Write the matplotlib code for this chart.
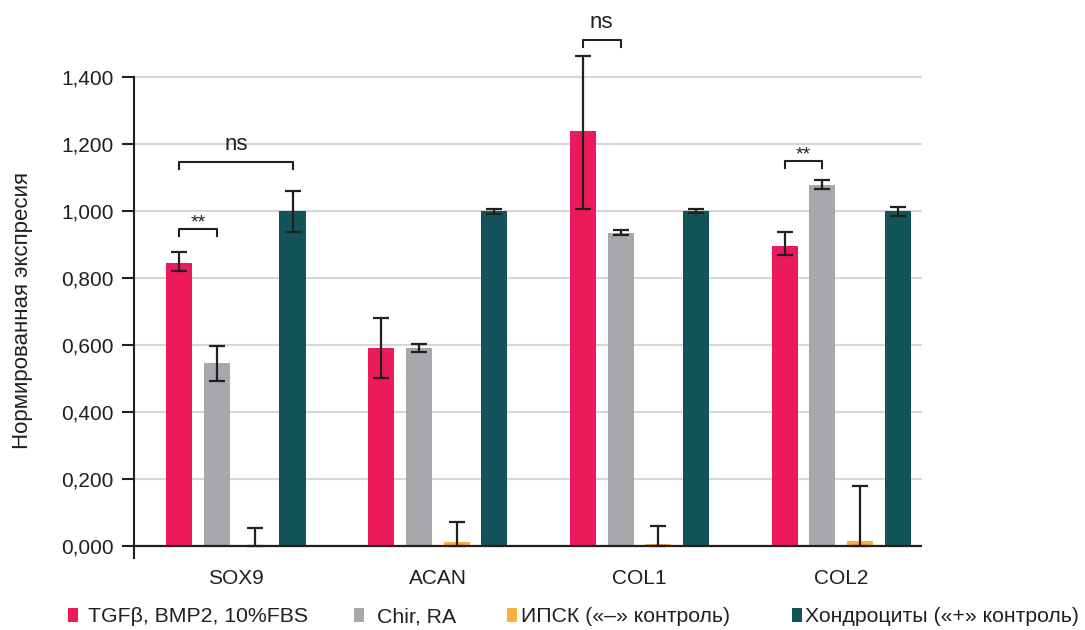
import numpy as np
import matplotlib
matplotlib.use("Agg")
import matplotlib.pyplot as plt

plt.rcParams['font.family'] = ['Liberation Sans', 'DejaVu Sans']

# data
genes = ["SOX9", "ACAN", "COL1", "COL2"]
series = [
    "TGFβ, BMP2, 10%FBS",
    "Chir, RA",
    "ИПСК («–» контроль)",
    "Хондроциты («+» контроль)",
]
colors = ["#EC1A5B", "#A7A8AB", "#F9B041", "#12545A"]

tgf_vals = [0.845, 0.590, 1.238, 0.896]
tgf_lo = [0.822, 0.500, 1.006, 0.869]
tgf_hi = [0.878, 0.680, 1.462, 0.936]

chir_vals = [0.545, 0.590, 0.935, 1.078]
chir_lo = [0.492, 0.578, 0.928, 1.066]
chir_hi = [0.597, 0.604, 0.942, 1.094]

ipsc_vals = [0.003, 0.012, 0.005, 0.014]
ipsc_lo = [0.0, 0.0, 0.0, 0.0]
ipsc_hi = [0.055, 0.070, 0.060, 0.180]

chondro_vals = [1.000, 1.000, 1.000, 1.000]
chondro_lo = [0.936, 0.992, 0.993, 0.984]
chondro_hi = [1.060, 1.006, 1.007, 1.013]

yticks = [0.0, 0.2, 0.4, 0.6, 0.8, 1.0, 1.2, 1.4]

# significance brackets: (gene index, series a, series b, height, label)
sig_gene = [0, 0, 2, 3]
sig_a = [0, 0, 0, 0]
sig_b = [1, 3, 1, 1]
sig_y = [0.946, 1.146, 1.510, 1.149]
sig_text = ["**", "ns", "ns", "**"]

all_vals = [tgf_vals, chir_vals, ipsc_vals, chondro_vals]
all_lo = [tgf_lo, chir_lo, ipsc_lo, chondro_lo]
all_hi = [tgf_hi, chir_hi, ipsc_hi, chondro_hi]

ink = "#231F20"

fig = plt.figure(figsize=(10.85, 6.3), dpi=100)
ax = fig.add_axes([134 / 1085, 1 - 558 / 630, 788 / 1085, 553 / 630])

x = np.arange(len(genes))
step = 0.187
width = 0.129
offsets = (np.arange(4) - 1.5) * step

handles = []
for i in range(4):
    vals = np.array(all_vals[i])
    err = [vals - np.array(all_lo[i]), np.array(all_hi[i]) - vals]
    b = ax.bar(x + offsets[i], vals, width, color=colors[i], zorder=3,
               label=series[i])
    ax.errorbar(x + offsets[i], vals, yerr=err, fmt="none", ecolor=ink,
                elinewidth=1.6, capsize=5.5, capthick=1.6, zorder=4)
    handles.append(b)

ax.axhline(0, color=ink, lw=1.6, zorder=5)

# brackets
leg_h = 0.021
for g, a, bb, y, t in zip(sig_gene, sig_a, sig_b, sig_y, sig_text):
    x0 = x[g] + offsets[a]
    x1 = x[g] + offsets[bb]
    ax.plot([x0, x0, x1, x1], [y - leg_h, y, y, y - leg_h],
            color=ink, lw=1.5, zorder=4)
    if t == "**":
        ax.text((x0 + x1) / 2, y - 0.008, t, ha="center", va="bottom",
                fontsize=14, color=ink)
    else:
        ax.text((x0 + x1) / 2, y + 0.022, t, ha="center", va="bottom",
                fontsize=16, color=ink)

ax.set_xlim(-0.505, 3.40)
ax.set_ylim(-0.036, 1.615)
ax.set_yticks(yticks)
ax.set_yticklabels([f"{v:.3f}".replace(".", ",") for v in yticks])
ax.set_xticks(x)
ax.set_xticklabels(genes)
ax.grid(axis="y", color="#D6D6D6", lw=1.5, zorder=0)
ax.tick_params(axis="y", length=8.5, width=1.5, color=ink, pad=6,
               labelsize=15, labelcolor=ink)
ax.tick_params(axis="x", length=0, pad=8, labelsize=15, labelcolor=ink)
for s in ["top", "right", "bottom"]:
    ax.spines[s].set_visible(False)
ax.spines["left"].set_color(ink)
ax.spines["left"].set_linewidth(1.5)
ax.spines["left"].set_bounds(-0.036, 1.4)

ax.set_ylabel("Нормированная экспресия", fontsize=16, color=ink)
ax.yaxis.set_label_coords(-0.128, 0.448)

# legend items placed one by one along the bottom
leg_x = [68, 354, 507, 792]
leg_pad = [0.45, 0.6, 0.2, 0.15]
for h, lab, lx, pd in zip(handles, series, leg_x, leg_pad):
    fig.legend(handles=[h], labels=[lab], loc="center left",
               bbox_to_anchor=(lx / 1085, 1 - 617 / 630), frameon=False,
               fontsize=15.3, handlelength=0.48, handleheight=0.68,
               handletextpad=pd, borderpad=0, borderaxespad=0,
               labelcolor=ink)

fig.savefig("out.png", dpi=100)
